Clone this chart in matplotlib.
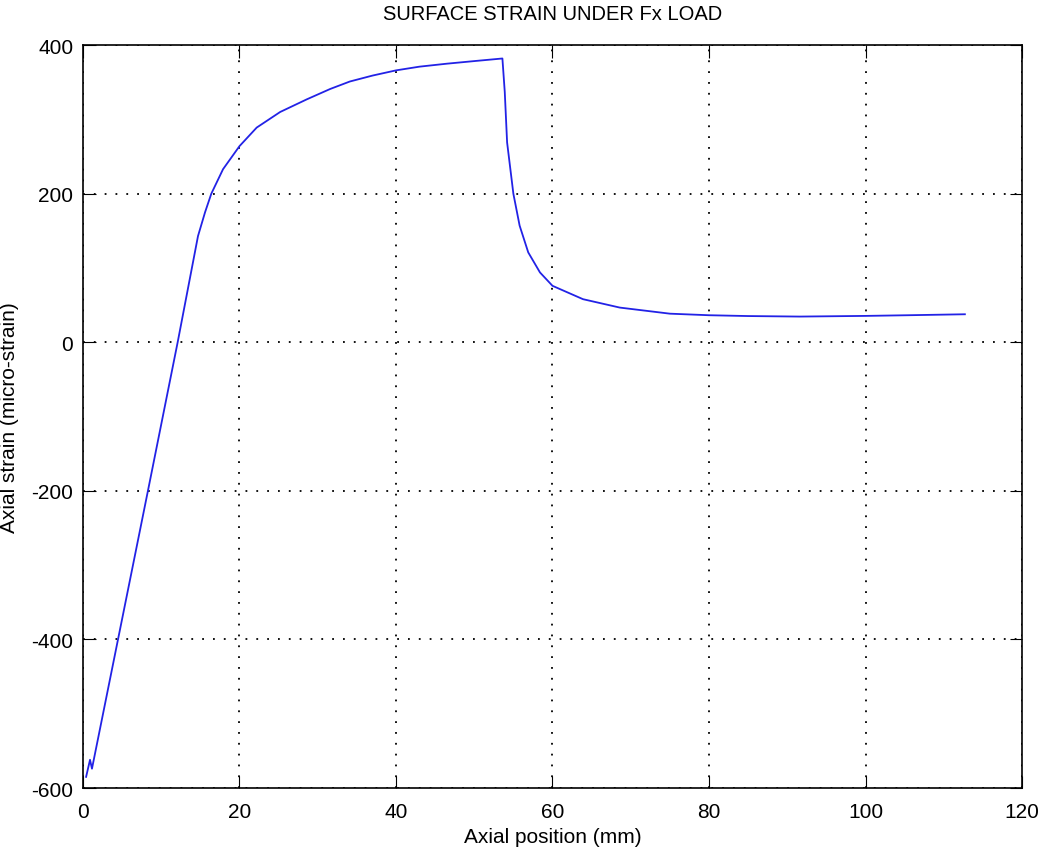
import numpy as np
from matplotlib import pyplot as plt

plt.rcParams['font.family'] = ['Liberation Sans', 'DejaVu Sans']
plt.rcParams['axes.unicode_minus'] = False

# axial position (mm) and surface strain (micro-strain)
position = [0.4, 0.9, 1.15, 8.3, 12.1, 14.7, 15.6, 16.4, 17.9, 20.0, 22.2,
            25.2, 28.6, 31.6, 34.1, 37.0, 40.0, 43.0, 46.5, 50.0, 53.6,
            53.9, 54.2, 55.0, 55.8, 56.9, 58.4, 60.0, 63.9, 68.6, 75.0,
            80.0, 85.0, 91.6, 100.0, 106.0, 112.7]
strain = [-585, -562, -574, -200, 0, 143, 175, 200, 233, 264, 289,
          310, 327, 341, 351, 359, 366, 371, 375, 378.5, 382,
          337, 269, 200, 157, 121, 94, 76, 58, 46.7, 38.5,
          36.4, 35.3, 34.6, 35.5, 36.5, 37.7]

fig, ax = plt.subplots(figsize=(10.45, 8.54), dpi=100)
fig.subplots_adjust(left=0.0794, right=0.978, top=0.946, bottom=0.0761)

ax.plot(position, strain, color="#2222e6", linewidth=1.3)

ax.set_xlim(0, 120)
ax.set_ylim(-600, 400)
ax.set_xticks(np.arange(0, 121, 20))
ax.set_yticks(np.arange(-600, 401, 200))
ax.grid(True, color="black", linestyle=(0, (1, 5)), linewidth=1.3)
ax.tick_params(direction="in", top=True, right=True, labelsize=15, length=9)
ax.tick_params(axis="x", pad=10)
ax.tick_params(axis="y", pad=7)
for s in ax.spines.values():
    s.set_linewidth(1.2)

ax.set_title("SURFACE STRAIN UNDER Fx LOAD", fontsize=14.5, y=1.035, pad=0)
ax.set_xlabel("Axial position (mm)", fontsize=15)
ax.set_ylabel("Axial strain (micro-strain)", fontsize=15)
ax.xaxis.set_label_coords(0.5, -0.052)
ax.yaxis.set_label_coords(-0.068, 0.5)

plt.savefig("out.png")
plt.close()
